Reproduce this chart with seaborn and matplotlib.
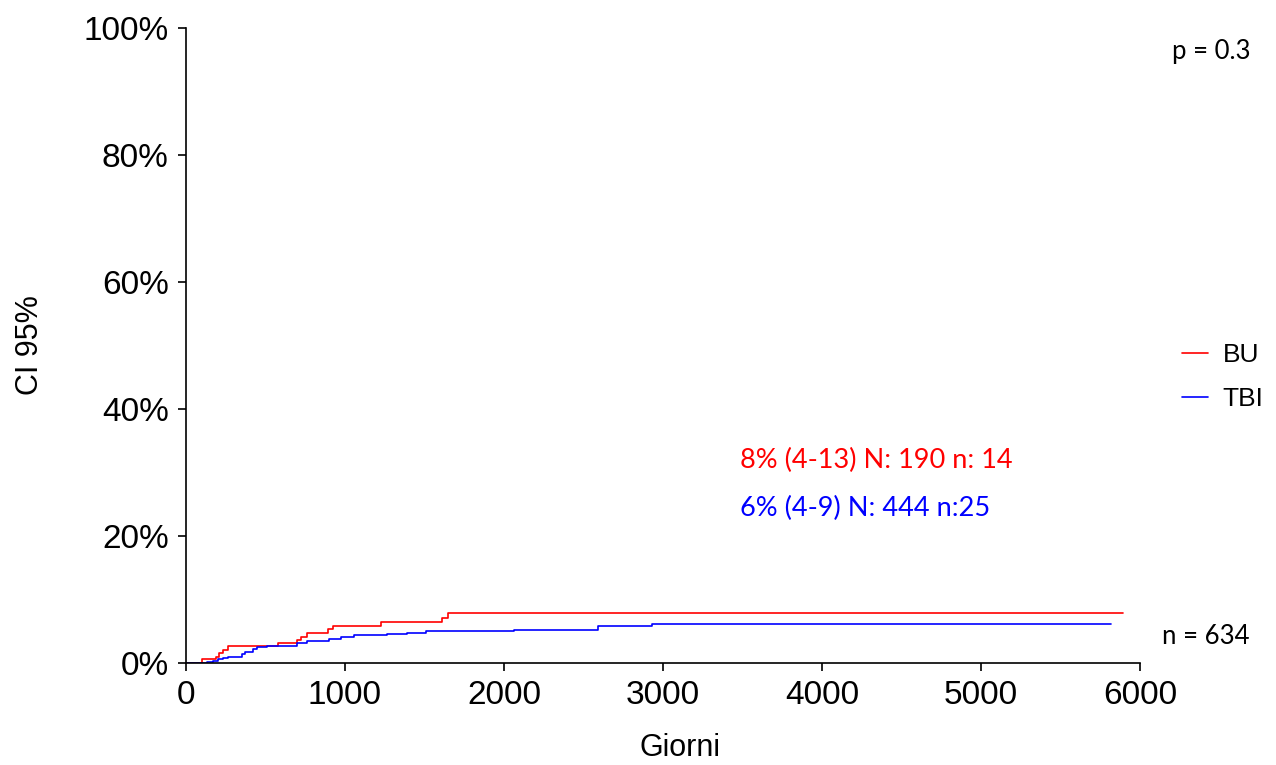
import matplotlib
matplotlib.use("Agg")
import matplotlib.pyplot as plt
import seaborn as sns
import pandas as pd

# Data
bu_days = [0, 99, 187, 210, 235, 262, 581, 700, 721, 763, 891, 922, 1226, 1608, 1650, 5891]
bu_ci = [0, 0.6, 1.0, 1.6, 2.05, 2.6, 3.2, 3.6, 4.1, 4.8, 5.35, 5.8, 6.4, 7.1, 7.9, 7.9]
tbi_days = [0, 130, 172, 199, 235, 262, 350, 371, 419, 449, 465, 512, 700, 763, 899,
            975, 1059, 1262, 1388, 1508, 2065, 2589, 2929, 5818]
tbi_ci = [0, 0.16, 0.36, 0.63, 0.84, 1.0, 1.4, 1.78, 2.15, 2.47, 2.57, 2.73, 3.1, 3.46,
          3.78, 4.1, 4.36, 4.6, 4.8, 5.0, 5.2, 5.8, 6.2, 6.2]
groups = ["BU", "TBI"]
colors = ["red", "blue"]
x_ticks = [0, 1000, 2000, 3000, 4000, 5000, 6000]
y_ticks = [0, 20, 40, 60, 80, 100]
y_tick_labels = ["0%", "20%", "40%", "60%", "80%", "100%"]
annotations = ["8% (4-13) N: 190 n: 14", "6% (4-9) N: 444 n:25"]
p_text = "p = 0.3"
n_text = "n = 634"

df = pd.concat([
    pd.DataFrame({"Giorni": bu_days, "CI": bu_ci, "group": groups[0]}),
    pd.DataFrame({"Giorni": tbi_days, "CI": tbi_ci, "group": groups[1]}),
], ignore_index=True)

sns.set_style("white")
plt.rcParams["font.family"] = ["Liberation Sans", "DejaVu Sans"]
plt.rcParams["text.color"] = "black"
plt.rcParams["axes.labelcolor"] = "black"

W, H = 1276, 765
fig = plt.figure(figsize=(W / 100, H / 100), dpi=100)
ax = fig.add_axes([186 / W, 1 - 663 / H, (1140 - 186) / W, (663 - 28) / H])

sns.lineplot(data=df, x="Giorni", y="CI", hue="group", hue_order=groups,
             palette=dict(zip(groups, colors)), drawstyle="steps-post",
             estimator=None, errorbar=None, linewidth=1.2, ax=ax, legend=True)

ax.set_xlim(0, 6000)
ax.set_ylim(0, 100)
ax.set_xticks(x_ticks)
ax.set_xticklabels([str(t) for t in x_ticks])
ax.set_yticks(y_ticks)
ax.set_yticklabels(y_tick_labels)
ax.tick_params(axis="both", which="major", direction="out", length=5.5, width=1.2,
               labelsize=24, colors="black", pad=7, bottom=True, left=True)
for s in ["top", "right"]:
    ax.spines[s].set_visible(False)
for s in ["left", "bottom"]:
    ax.spines[s].set_color("black")
    ax.spines[s].set_linewidth(1.2)

ax.set_xlabel("")
ax.set_ylabel("")
fig.text(680 / W, 1 - 748 / H, "Giorni", ha="center", va="center", fontsize=22, color="black")
fig.text(30 / W, 1 - 345 / H, "CI 95%", ha="center", va="center", rotation=90,
         fontsize=22, color="black")

leg = ax.legend(loc="center left", bbox_to_anchor=(1158 / W, 1 - 377 / H),
                bbox_transform=fig.transFigure, frameon=False,
                prop={"family": ["Liberation Sans", "DejaVu Sans"], "size": 19},
                handlelength=1.0, handletextpad=0.55, labelspacing=0.75)
for t in leg.get_texts():
    t.set_color("black")

calib = ["Lato", "DejaVu Sans"]
fig.text(740 / W, 1 - 460 / H, annotations[0], color=colors[0], fontsize=19.5,
         va="center", ha="left", family=calib)
fig.text(740 / W, 1 - 508 / H, annotations[1], color=colors[1], fontsize=19.5,
         va="center", ha="left", family=calib)
fig.text(1172 / W, 1 - 52 / H, p_text, fontsize=18.5, va="center", ha="left",
         family=calib, color="black")
fig.text(1162 / W, 1 - 636 / H, n_text, fontsize=18.5, va="center", ha="left",
         family=calib, color="black")

fig.savefig("out.png", dpi=100)
